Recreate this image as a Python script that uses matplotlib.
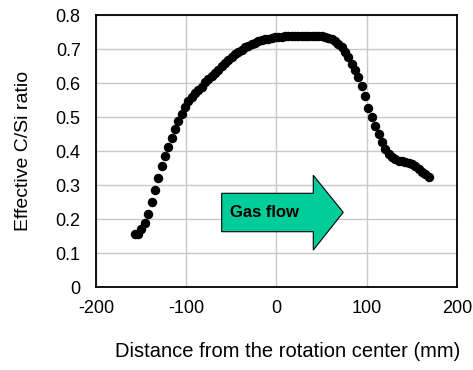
import matplotlib.pyplot as plt
from matplotlib.patches import Polygon

# distance from rotation center (mm) and effective C/Si ratio
distance = [-157.0, -153.3, -149.6, -145.9, -142.2, -138.5, -134.8, -131.1, -127.4, -123.7,
            -120.0, -116.3, -112.6, -108.9, -105.2, -101.5, -97.8, -94.1, -90.4, -86.7,
            -83.0, -79.3, -75.6, -71.9, -68.2, -64.5, -60.8, -57.1, -53.4, -49.7,
            -46.0, -42.3, -38.6, -34.9, -31.2, -27.5, -23.8, -20.1, -16.4, -12.7,
            -9.0, -5.3, -1.6, 2.1, 5.8, 9.5, 13.2, 16.9, 20.6, 24.3,
            28.0, 31.7, 35.4, 39.1, 42.8, 46.5, 50.2, 53.9, 57.6, 61.3,
            65.0, 68.7, 72.4, 76.1, 79.8, 83.5, 87.2, 90.9, 94.6, 98.3,
            102.0, 105.7, 109.4, 113.1, 116.8, 120.5, 124.2, 127.9, 131.6, 135.3,
            139.0, 142.7, 146.4, 150.1, 153.8, 157.5, 161.2, 164.9, 168.6]
cs_ratio = [0.155, 0.157, 0.171, 0.190, 0.215, 0.250, 0.285, 0.320, 0.355, 0.385,
            0.413, 0.440, 0.465, 0.490, 0.510, 0.530, 0.548, 0.560, 0.570, 0.580,
            0.590, 0.602, 0.612, 0.621, 0.630, 0.640, 0.650, 0.659, 0.668, 0.677,
            0.685, 0.692, 0.699, 0.705, 0.710, 0.715, 0.719, 0.723, 0.726, 0.729,
            0.731, 0.733, 0.735, 0.736, 0.737, 0.738, 0.738, 0.739, 0.739, 0.739,
            0.739, 0.739, 0.739, 0.739, 0.739, 0.738, 0.738, 0.736, 0.733, 0.729,
            0.723, 0.715, 0.705, 0.693, 0.678, 0.657, 0.640, 0.618, 0.592, 0.562,
            0.528, 0.500, 0.474, 0.450, 0.428, 0.406, 0.393, 0.383, 0.376, 0.372,
            0.370, 0.368, 0.365, 0.361, 0.355, 0.348, 0.340, 0.332, 0.323]

xticks = [-200, -100, 0, 100, 200]
yticks = [0, 0.1, 0.2, 0.3, 0.4, 0.5, 0.6, 0.7, 0.8]

plt.rcParams['font.family'] = ['Liberation Sans', 'DejaVu Sans']
plt.rcParams['axes.unicode_minus'] = False

fig = plt.figure(figsize=(4.73, 3.70), dpi=100)
ax = fig.add_axes([0.203, 0.224, 0.763, 0.735])

ax.plot(distance, cs_ratio, 'o', color='black', markersize=5.8, zorder=3)

# gas flow arrow
arrow = Polygon([(-60.7, 0.163), (-60.7, 0.276), (40.8, 0.276), (40.8, 0.329),
                 (74.0, 0.220), (40.8, 0.109), (40.8, 0.163)],
                closed=True, facecolor='#00cc99', edgecolor='black', linewidth=0.8, zorder=2)
ax.add_patch(arrow)
ax.text(-51, 0.220, 'Gas flow', fontsize=12, fontweight='bold', ha='left', va='center', zorder=4)

ax.set_xlim(-200, 200)
ax.set_ylim(0, 0.8)
ax.set_xticks(xticks)
ax.set_yticks(yticks)
ax.set_yticklabels(['0' if v == 0 else f'{v:.1f}' for v in yticks])
ax.tick_params(length=0, labelsize=13)
ax.tick_params(axis='y', pad=11)
ax.tick_params(axis='x', pad=9)
ax.grid(True, color='#c8c8c8', linewidth=1.0)
ax.set_axisbelow(True)
for s in ax.spines.values():
    s.set_linewidth(1.3)
    s.set_color('black')

ax.set_xlabel('Distance from the rotation center (mm)', fontsize=14.5)
ax.set_ylabel('Effective C/Si ratio', fontsize=14)
ax.xaxis.set_label_coords(0.53, -0.2)
ax.yaxis.set_label_coords(-0.177, 0.5)

plt.savefig('out.png', dpi=100)
